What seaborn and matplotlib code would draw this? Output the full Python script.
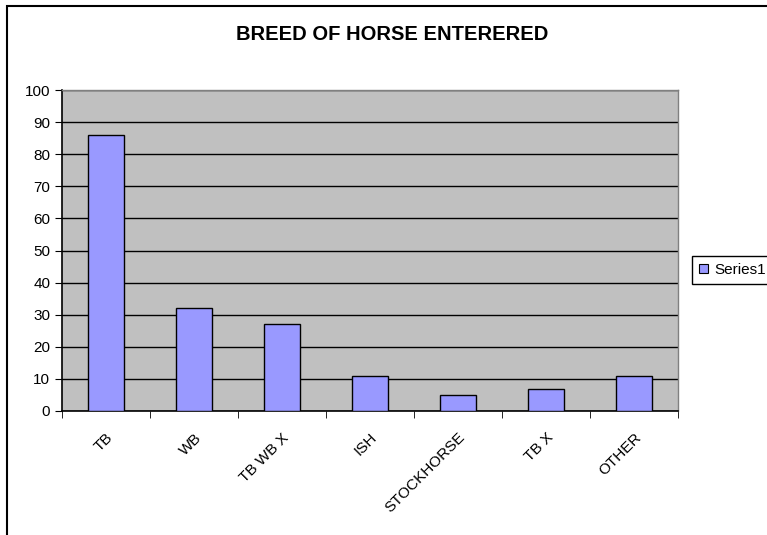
import matplotlib
matplotlib.use("Agg")
import matplotlib.pyplot as plt
import seaborn as sns
import pandas as pd
from matplotlib.patches import Rectangle, Patch

# data
breeds = ["TB", "WB", "TB WB X", "ISH", "STOCKHORSE", "TB X", "OTHER"]
counts = [86, 32, 27, 11, 5, 7, 11]
series_name = "Series1"

sns.set_style("white")
plt.rcParams["font.family"] = ["Liberation Sans", "DejaVu Sans"]
plt.rcParams["text.color"] = "black"
plt.rcParams["xtick.color"] = "black"
plt.rcParams["ytick.color"] = "black"

df = pd.DataFrame({"breed": breeds, "count": counts})

fig = plt.figure(figsize=(7.67, 5.35), dpi=100)
ax = fig.add_axes([62 / 767, 1 - 411 / 535, (678 - 62) / 767, (411 - 90) / 535])

sns.barplot(ax=ax, data=df, x="breed", y="count", color="#9999FF",
            saturation=1, width=0.4, edgecolor="black", linewidth=1, zorder=3)

ax.set_facecolor("#C0C0C0")
ax.set_xlim(-0.5, len(breeds) - 0.5)
ax.set_ylim(0, 100)
ax.set_yticks(range(0, 101, 10))
ax.yaxis.grid(True, color="black", linewidth=1)
ax.set_axisbelow(True)
ax.set_xlabel("")
ax.set_ylabel("")

# spines like the old excel look
for s in ["left", "bottom"]:
    ax.spines[s].set_color("black")
    ax.spines[s].set_linewidth(1.2)
for s in ["top", "right"]:
    ax.spines[s].set_color("#808080")
    ax.spines[s].set_linewidth(1)

# ticks between categories, labels rotated
ax.set_xticks([i - 0.5 for i in range(len(breeds) + 1)], minor=True)
ax.tick_params(axis="x", which="minor", length=5, direction="out", color="black", bottom=True)
ax.tick_params(axis="x", which="major", length=0, pad=14, labelsize=11)
ax.tick_params(axis="y", length=5, direction="out", color="black", left=True, labelsize=11)
for lbl in ax.get_xticklabels():
    lbl.set_rotation(45)
    lbl.set_ha("right")
    lbl.set_rotation_mode("anchor")
    lbl.set_x(lbl.get_position()[0])

fig.suptitle("BREED OF HORSE ENTERERED", x=392 / 767, y=1 - 35 / 535, va="center",
             fontsize=14.5, fontweight="bold")

# legend outside on the right
handle = Patch(facecolor="#9999FF", edgecolor="black", linewidth=0.8)
leg = fig.legend([handle], [series_name], loc="upper left",
                 bbox_to_anchor=(692 / 767, 1 - 256 / 535), frameon=True,
                 fancybox=False, framealpha=1, edgecolor="black", fontsize=11,
                 handlelength=0.6, handleheight=0.6, handletextpad=0.4,
                 borderpad=0.45, borderaxespad=0)
leg.get_frame().set_linewidth(1)

# outer chart border
fig.patches.append(Rectangle((7 / 767, -0.1), 1.2, 1 - 6 / 535 + 0.1,
                             transform=fig.transFigure, fill=False,
                             edgecolor="black", linewidth=1.5, clip_on=False))

fig.savefig("out.png", dpi=100)
